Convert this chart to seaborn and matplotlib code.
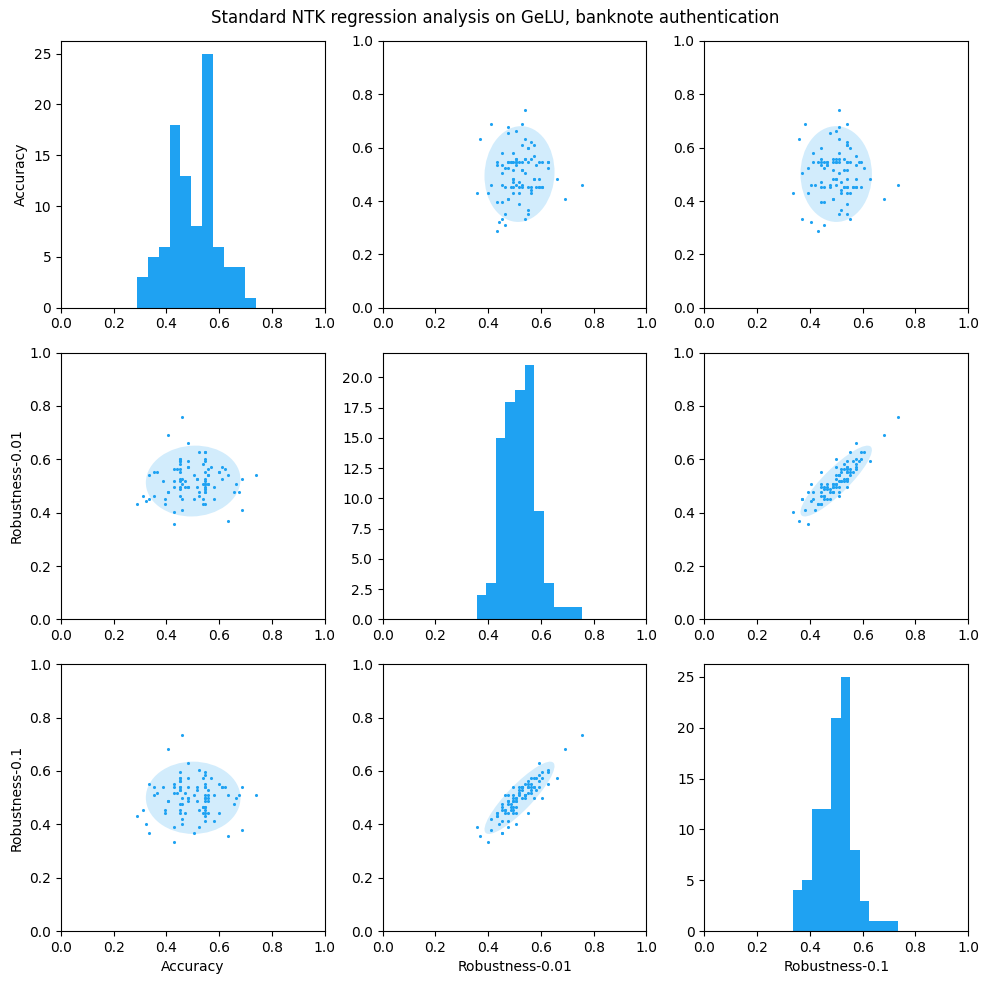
import numpy as np
import matplotlib
matplotlib.use("Agg")
import matplotlib.pyplot as plt
import matplotlib.transforms as transforms
from matplotlib.patches import Ellipse
import seaborn as sns

# values (93 runs)
accuracy = [
    0.289, 0.312, 0.323, 0.332, 0.332, 0.353, 0.353, 0.365, 0.388, 0.395, 0.395,
    0.407, 0.407, 0.407,
    0.429, 0.429, 0.429, 0.429, 0.429, 0.441,
    0.451, 0.451, 0.451, 0.451, 0.451, 0.451, 0.451, 0.451, 0.451, 0.451, 0.451, 0.451,
    0.459, 0.459, 0.459, 0.459, 0.459, 0.470, 0.470,
    0.482, 0.482, 0.482, 0.482, 0.482, 0.482,
    0.505, 0.505, 0.516, 0.516, 0.516, 0.524, 0.524, 0.524,
    0.537, 0.537, 0.537, 0.537,
    0.547, 0.547, 0.547, 0.547, 0.547, 0.547, 0.547, 0.547, 0.547, 0.547, 0.547, 0.547,
    0.547, 0.547, 0.547,
    0.559, 0.559, 0.559, 0.559, 0.559, 0.570, 0.581, 0.581, 0.600, 0.600,
    0.611, 0.611, 0.623, 0.634, 0.634, 0.655, 0.664, 0.676, 0.687, 0.687, 0.740,
]
robustness_001 = [
    0.432, 0.462, 0.442, 0.541, 0.453, 0.551, 0.462, 0.551, 0.517, 0.453, 0.432,
    0.690, 0.476, 0.476,
    0.562, 0.517, 0.495, 0.401, 0.356, 0.562,
    0.603, 0.603, 0.592, 0.592, 0.581, 0.562, 0.551, 0.528, 0.517, 0.495, 0.487, 0.462,
    0.757, 0.528, 0.506, 0.453, 0.409, 0.517, 0.495,
    0.660, 0.592, 0.572, 0.572, 0.495, 0.495,
    0.541, 0.453, 0.528, 0.528, 0.495, 0.626, 0.476, 0.462,
    0.581, 0.506, 0.453, 0.432,
    0.626, 0.626, 0.603, 0.592, 0.551, 0.528, 0.517, 0.506, 0.506, 0.495, 0.487, 0.487,
    0.476, 0.476, 0.432,
    0.562, 0.541, 0.541, 0.506, 0.506, 0.572, 0.495, 0.453, 0.551, 0.551,
    0.572, 0.528, 0.562, 0.541, 0.367, 0.476, 0.506, 0.476, 0.528, 0.409, 0.541,
]
robustness_01 = [
    0.431, 0.454, 0.402, 0.550, 0.368, 0.539, 0.510, 0.518, 0.539, 0.454, 0.441,
    0.681, 0.487, 0.487,
    0.550, 0.518, 0.539, 0.335, 0.391, 0.518,
    0.595, 0.573, 0.562, 0.539, 0.528, 0.573, 0.562, 0.539, 0.528, 0.454, 0.476, 0.441,
    0.733, 0.499, 0.402, 0.476, 0.420, 0.518, 0.441,
    0.573, 0.628, 0.539, 0.499, 0.499, 0.487,
    0.510, 0.368, 0.539, 0.528, 0.487, 0.603, 0.391, 0.454,
    0.573, 0.465, 0.465, 0.441,
    0.595, 0.550, 0.499, 0.584, 0.539, 0.539, 0.510, 0.499, 0.487, 0.465, 0.454, 0.465,
    0.441, 0.413, 0.431,
    0.528, 0.510, 0.499, 0.487, 0.441, 0.573, 0.510, 0.413, 0.550, 0.441,
    0.539, 0.539, 0.539, 0.510, 0.357, 0.476, 0.499, 0.510, 0.539, 0.380, 0.510,
]

names = ["Accuracy", "Robustness-0.01", "Robustness-0.1"]
columns = [np.array(accuracy), np.array(robustness_001), np.array(robustness_01)]
color = "#1fa2f2"


def confidence_ellipse(x, y, ax, n_std=2.0, **kwargs):
    cov = np.cov(x, y)
    pearson = cov[0, 1] / np.sqrt(cov[0, 0] * cov[1, 1])
    rx = np.sqrt(1 + pearson)
    ry = np.sqrt(1 - pearson)
    ellipse = Ellipse((0, 0), width=rx * 2, height=ry * 2, **kwargs)
    transf = (transforms.Affine2D()
              .rotate_deg(45)
              .scale(np.sqrt(cov[0, 0]) * n_std, np.sqrt(cov[1, 1]) * n_std)
              .translate(np.mean(x), np.mean(y)))
    ellipse.set_transform(transf + ax.transData)
    return ax.add_patch(ellipse)


fig, axes = plt.subplots(3, 3, figsize=(9.9, 9.85), dpi=100)
fig.subplots_adjust(left=0.0616, right=0.978, bottom=0.0548, top=0.9584,
                    wspace=0.22, hspace=0.168)

for i in range(3):
    for j in range(3):
        ax = axes[i, j]
        if i == j:
            sns.histplot(x=columns[j], bins=11, ax=ax, color=color,
                         alpha=1, linewidth=0)
        else:
            confidence_ellipse(columns[j], columns[i], ax, n_std=2.0,
                               facecolor=color, alpha=0.2, edgecolor="none")
            sns.scatterplot(x=columns[j], y=columns[i], ax=ax, color=color,
                            s=5, linewidth=0)
            ax.set_ylim(0, 1)
        ax.set_xlim(0, 1)
        ax.set_xlabel(names[j] if i == 2 else "")
        ax.set_ylabel(names[i] if j == 0 else "")

fig.suptitle("Standard NTK regression analysis on GeLU, banknote authentication",
             y=0.991)
fig.savefig("out.png")
